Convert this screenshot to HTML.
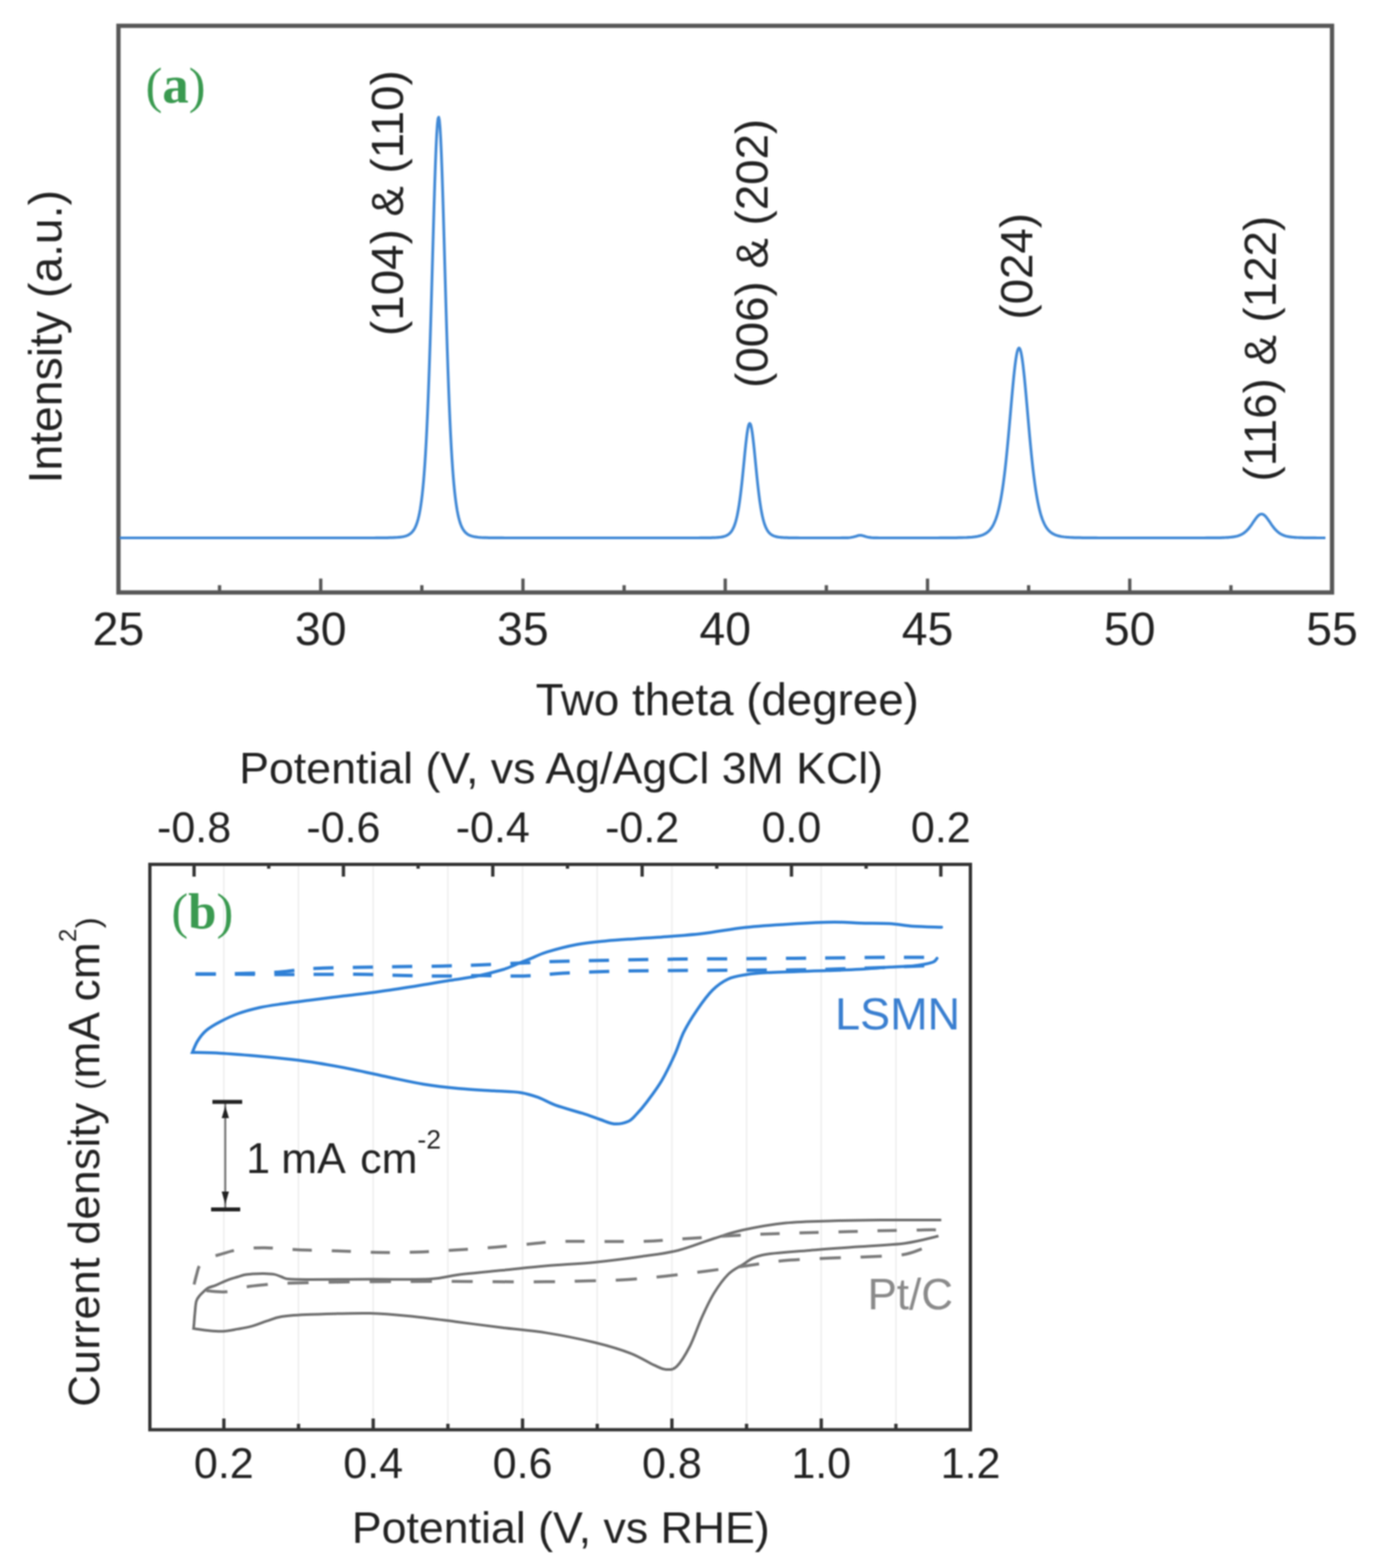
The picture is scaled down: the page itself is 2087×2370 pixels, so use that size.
<!DOCTYPE html><html><head><meta charset="utf-8"><style>html,body{margin:0;padding:0;background:#fff;overflow:hidden;}svg{display:block;filter:blur(1px);}</style></head><body>
<svg width="2087" height="2370" viewBox="0 0 2087 2370">
<rect width="100%" height="100%" fill="#fff"/>
<rect x="179.0" y="39.0" width="1834.0" height="856.5" fill="none" stroke="#575757" stroke-width="6.5"/>
<line x1="179.0" y1="895.5" x2="179.0" y2="874.5" stroke="#575757" stroke-width="5"/>
<line x1="484.7" y1="895.5" x2="484.7" y2="874.5" stroke="#575757" stroke-width="5"/>
<line x1="790.3" y1="895.5" x2="790.3" y2="874.5" stroke="#575757" stroke-width="5"/>
<line x1="1096.0" y1="895.5" x2="1096.0" y2="874.5" stroke="#575757" stroke-width="5"/>
<line x1="1401.7" y1="895.5" x2="1401.7" y2="874.5" stroke="#575757" stroke-width="5"/>
<line x1="1707.3" y1="895.5" x2="1707.3" y2="874.5" stroke="#575757" stroke-width="5"/>
<line x1="2013.0" y1="895.5" x2="2013.0" y2="874.5" stroke="#575757" stroke-width="5"/>
<line x1="331.8" y1="895.5" x2="331.8" y2="884.5" stroke="#575757" stroke-width="5"/>
<line x1="637.5" y1="895.5" x2="637.5" y2="884.5" stroke="#575757" stroke-width="5"/>
<line x1="943.2" y1="895.5" x2="943.2" y2="884.5" stroke="#575757" stroke-width="5"/>
<line x1="1248.8" y1="895.5" x2="1248.8" y2="884.5" stroke="#575757" stroke-width="5"/>
<line x1="1554.5" y1="895.5" x2="1554.5" y2="884.5" stroke="#575757" stroke-width="5"/>
<line x1="1860.2" y1="895.5" x2="1860.2" y2="884.5" stroke="#575757" stroke-width="5"/>
<text x="179.0" y="975" font-family="'Liberation Sans', Arial, sans-serif" font-size="70" fill="#222" text-anchor="middle">25</text>
<text x="484.7" y="975" font-family="'Liberation Sans', Arial, sans-serif" font-size="70" fill="#222" text-anchor="middle">30</text>
<text x="790.3" y="975" font-family="'Liberation Sans', Arial, sans-serif" font-size="70" fill="#222" text-anchor="middle">35</text>
<text x="1096.0" y="975" font-family="'Liberation Sans', Arial, sans-serif" font-size="70" fill="#222" text-anchor="middle">40</text>
<text x="1401.7" y="975" font-family="'Liberation Sans', Arial, sans-serif" font-size="70" fill="#222" text-anchor="middle">45</text>
<text x="1707.3" y="975" font-family="'Liberation Sans', Arial, sans-serif" font-size="70" fill="#222" text-anchor="middle">50</text>
<text x="2013.0" y="975" font-family="'Liberation Sans', Arial, sans-serif" font-size="70" fill="#222" text-anchor="middle">55</text>
<text x="1099" y="1081" font-family="'Liberation Sans', Arial, sans-serif" font-size="69" fill="#222" text-anchor="middle">Two theta (degree)</text>
<text transform="translate(92.8,509) rotate(-90)" font-family="'Liberation Sans', Arial, sans-serif" font-size="70" fill="#222" text-anchor="middle">Intensity (a.u.)</text>
<text x="220" y="154.5" font-family="'Liberation Serif', 'Times New Roman', serif" font-size="80" font-weight="bold" fill="#3a9a50"><tspan font-weight="normal" font-size="76">(</tspan>a<tspan font-weight="normal" font-size="76">)</tspan></text>
<text transform="translate(609.0,307.0) rotate(-90)" font-family="'Liberation Sans', Arial, sans-serif" font-size="69" fill="#222" text-anchor="middle">(104) &amp; (110)</text>
<text transform="translate(1160.0,383.0) rotate(-90)" font-family="'Liberation Sans', Arial, sans-serif" font-size="69" fill="#222" text-anchor="middle">(006) &amp; (202)</text>
<text transform="translate(1560.0,402.5) rotate(-90)" font-family="'Liberation Sans', Arial, sans-serif" font-size="69" fill="#222" text-anchor="middle">(024)</text>
<text transform="translate(1928.0,527.0) rotate(-90)" font-family="'Liberation Sans', Arial, sans-serif" font-size="69" fill="#222" text-anchor="middle">(116) &amp; (122)</text>
<path d="M181.0,813.0 L185.0,813.0 L189.0,813.0 L193.0,813.0 L197.0,813.0 L201.0,813.0 L205.0,813.0 L209.0,813.0 L213.0,813.0 L217.0,813.0 L221.0,813.0 L225.0,813.0 L229.0,813.0 L233.0,813.0 L237.0,813.0 L241.0,813.0 L245.0,813.0 L249.0,813.0 L253.0,813.0 L257.0,813.0 L261.0,813.0 L265.0,813.0 L269.0,813.0 L273.0,813.0 L277.0,813.0 L281.0,813.0 L285.0,813.0 L289.0,813.0 L293.0,813.0 L297.0,813.0 L301.0,813.0 L305.0,813.0 L309.0,813.0 L313.0,813.0 L317.0,813.0 L321.0,813.0 L325.0,813.0 L329.0,813.0 L333.0,813.0 L337.0,813.0 L341.0,813.0 L345.0,813.0 L349.0,813.0 L353.0,813.0 L357.0,813.0 L361.0,813.0 L365.0,813.0 L369.0,813.0 L373.0,813.0 L377.0,813.0 L381.0,813.0 L385.0,813.0 L389.0,813.0 L393.0,813.0 L397.0,813.0 L401.0,813.0 L405.0,813.0 L409.0,813.0 L413.0,813.0 L417.0,813.0 L421.0,813.0 L425.0,813.0 L429.0,813.0 L433.0,813.0 L437.0,813.0 L441.0,813.0 L445.0,813.0 L449.0,813.0 L453.0,813.0 L457.0,813.0 L461.0,813.0 L465.0,813.0 L469.0,813.0 L473.0,813.0 L477.0,813.0 L481.0,813.0 L485.0,813.0 L489.0,813.0 L493.0,813.0 L497.0,813.0 L501.0,813.0 L505.0,813.0 L509.0,813.0 L513.0,813.0 L517.0,813.0 L521.0,813.0 L525.0,813.0 L529.0,813.0 L533.0,813.0 L537.0,813.0 L541.0,813.0 L545.0,813.0 L549.0,813.0 L553.0,813.0 L557.0,813.0 L561.0,813.0 L565.0,813.0 L569.0,812.9 L573.0,812.9 L577.0,812.9 L581.0,812.9 L585.0,812.8 L589.0,812.7 L593.0,812.6 L597.0,812.4 L601.0,812.2 L605.0,811.8 L606.0,811.7 L607.0,811.5 L608.0,811.4 L609.0,811.2 L610.0,811.0 L611.0,810.7 L612.0,810.5 L613.0,810.2 L614.0,809.9 L615.0,809.5 L616.0,809.1 L617.0,808.6 L618.0,808.0 L619.0,807.4 L620.0,806.7 L621.0,805.9 L622.0,805.0 L623.0,803.9 L624.0,802.7 L625.0,801.4 L626.0,799.8 L627.0,798.0 L628.0,795.9 L629.0,793.6 L630.0,790.8 L631.0,787.7 L632.0,784.1 L633.0,780.0 L634.0,775.2 L635.0,769.8 L636.0,763.5 L637.0,756.4 L638.0,748.2 L639.0,738.8 L640.0,728.1 L641.0,715.9 L642.0,702.1 L643.0,686.5 L644.0,669.0 L645.0,649.4 L646.0,627.6 L647.0,603.5 L648.0,577.1 L649.0,548.5 L650.0,517.7 L651.0,485.0 L652.0,450.8 L653.0,415.4 L654.0,379.6 L655.0,344.1 L656.0,309.7 L657.0,277.4 L658.0,248.1 L659.0,222.8 L660.0,202.4 L661.0,187.7 L662.0,179.1 L663.0,177.1 L664.0,181.8 L665.0,192.9 L666.0,210.0 L667.0,232.4 L668.0,259.4 L669.0,290.0 L670.0,323.3 L671.0,358.2 L672.0,394.0 L673.0,429.7 L674.0,464.6 L675.0,498.3 L676.0,530.3 L677.0,560.2 L678.0,588.0 L679.0,613.4 L680.0,636.6 L681.0,657.5 L682.0,676.3 L683.0,693.0 L684.0,707.8 L685.0,721.0 L686.0,732.5 L687.0,742.7 L688.0,751.6 L689.0,759.3 L690.0,766.1 L691.0,772.1 L692.0,777.2 L693.0,781.7 L694.0,785.6 L695.0,789.0 L696.0,792.0 L697.0,794.6 L698.0,796.8 L699.0,798.8 L700.0,800.5 L701.0,801.9 L702.0,803.2 L703.0,804.4 L704.0,805.4 L705.0,806.2 L706.0,807.0 L707.0,807.7 L708.0,808.3 L709.0,808.8 L710.0,809.2 L711.0,809.6 L712.0,810.0 L713.0,810.3 L714.0,810.6 L715.0,810.8 L716.0,811.1 L717.0,811.3 L718.0,811.4 L719.0,811.6 L720.0,811.7 L721.0,811.8 L722.0,812.0 L723.0,812.1 L727.0,812.4 L731.0,812.6 L735.0,812.7 L739.0,812.8 L743.0,812.8 L747.0,812.9 L751.0,812.9 L755.0,812.9 L759.0,812.9 L763.0,813.0 L767.0,813.0 L771.0,813.0 L775.0,813.0 L779.0,813.0 L783.0,813.0 L787.0,813.0 L791.0,813.0 L795.0,813.0 L799.0,813.0 L803.0,813.0 L807.0,813.0 L811.0,813.0 L815.0,813.0 L819.0,813.0 L823.0,813.0 L827.0,813.0 L831.0,813.0 L835.0,813.0 L839.0,813.0 L843.0,813.0 L847.0,813.0 L851.0,813.0 L855.0,813.0 L859.0,813.0 L863.0,813.0 L867.0,813.0 L871.0,813.0 L875.0,813.0 L879.0,813.0 L883.0,813.0 L887.0,813.0 L891.0,813.0 L895.0,813.0 L899.0,813.0 L903.0,813.0 L907.0,813.0 L911.0,813.0 L915.0,813.0 L919.0,813.0 L923.0,813.0 L927.0,813.0 L931.0,813.0 L935.0,813.0 L939.0,813.0 L943.0,813.0 L947.0,813.0 L951.0,813.0 L955.0,813.0 L959.0,813.0 L963.0,813.0 L967.0,813.0 L971.0,813.0 L975.0,813.0 L979.0,813.0 L983.0,813.0 L987.0,813.0 L991.0,813.0 L995.0,813.0 L999.0,813.0 L1003.0,813.0 L1007.0,813.0 L1011.0,813.0 L1015.0,813.0 L1019.0,813.0 L1023.0,813.0 L1027.0,813.0 L1031.0,813.0 L1035.0,813.0 L1039.0,813.0 L1043.0,813.0 L1047.0,813.0 L1051.0,813.0 L1055.0,813.0 L1059.0,812.9 L1063.0,812.9 L1067.0,812.9 L1071.0,812.8 L1075.0,812.8 L1076.0,812.7 L1077.0,812.7 L1078.0,812.7 L1079.0,812.6 L1080.0,812.6 L1081.0,812.6 L1082.0,812.5 L1083.0,812.4 L1084.0,812.4 L1085.0,812.3 L1086.0,812.2 L1087.0,812.1 L1088.0,812.0 L1089.0,811.9 L1090.0,811.7 L1091.0,811.6 L1092.0,811.4 L1093.0,811.1 L1094.0,810.9 L1095.0,810.6 L1096.0,810.3 L1097.0,809.9 L1098.0,809.4 L1099.0,808.9 L1100.0,808.3 L1101.0,807.6 L1102.0,806.8 L1103.0,805.9 L1104.0,804.8 L1105.0,803.6 L1106.0,802.2 L1107.0,800.5 L1108.0,798.6 L1109.0,796.4 L1110.0,793.9 L1111.0,791.0 L1112.0,787.6 L1113.0,783.8 L1114.0,779.5 L1115.0,774.5 L1116.0,769.0 L1117.0,762.8 L1118.0,755.9 L1119.0,748.3 L1120.0,740.1 L1121.0,731.2 L1122.0,721.7 L1123.0,711.8 L1124.0,701.6 L1125.0,691.4 L1126.0,681.3 L1127.0,671.7 L1128.0,662.9 L1129.0,655.1 L1130.0,648.7 L1131.0,644.0 L1132.0,641.0 L1133.0,640.0 L1134.0,641.0 L1135.0,644.0 L1136.0,648.7 L1137.0,655.1 L1138.0,662.9 L1139.0,671.7 L1140.0,681.3 L1141.0,691.4 L1142.0,701.6 L1143.0,711.8 L1144.0,721.7 L1145.0,731.2 L1146.0,740.1 L1147.0,748.3 L1148.0,755.9 L1149.0,762.8 L1150.0,769.0 L1151.0,774.5 L1152.0,779.5 L1153.0,783.8 L1154.0,787.6 L1155.0,791.0 L1156.0,793.9 L1157.0,796.4 L1158.0,798.6 L1159.0,800.5 L1160.0,802.2 L1161.0,803.6 L1162.0,804.8 L1163.0,805.9 L1164.0,806.8 L1165.0,807.6 L1166.0,808.3 L1167.0,808.9 L1168.0,809.4 L1169.0,809.9 L1170.0,810.3 L1171.0,810.6 L1172.0,810.9 L1173.0,811.1 L1174.0,811.4 L1175.0,811.6 L1176.0,811.7 L1177.0,811.9 L1178.0,812.0 L1179.0,812.1 L1180.0,812.2 L1181.0,812.3 L1182.0,812.4 L1183.0,812.4 L1184.0,812.5 L1185.0,812.6 L1186.0,812.6 L1187.0,812.6 L1188.0,812.7 L1189.0,812.7 L1190.0,812.7 L1191.0,812.8 L1192.0,812.8 L1193.0,812.8 L1197.0,812.9 L1201.0,812.9 L1205.0,812.9 L1209.0,813.0 L1213.0,813.0 L1217.0,813.0 L1221.0,813.0 L1225.0,813.0 L1229.0,813.0 L1233.0,813.0 L1237.0,813.0 L1241.0,813.0 L1245.0,813.0 L1249.0,813.0 L1253.0,813.0 L1257.0,813.0 L1261.0,813.0 L1265.0,813.0 L1269.0,813.0 L1273.0,812.9 L1277.0,812.9 L1281.0,812.8 L1285.0,812.5 L1289.0,811.8 L1293.0,810.7 L1297.0,809.4 L1301.0,809.0 L1305.0,810.0 L1309.0,811.3 L1313.0,812.2 L1317.0,812.6 L1321.0,812.8 L1325.0,812.9 L1329.0,813.0 L1333.0,813.0 L1337.0,813.0 L1341.0,813.0 L1345.0,813.0 L1349.0,813.0 L1353.0,813.0 L1357.0,813.0 L1361.0,813.0 L1365.0,813.0 L1369.0,813.0 L1373.0,813.0 L1377.0,813.0 L1381.0,813.0 L1385.0,813.0 L1389.0,813.0 L1393.0,813.0 L1397.0,813.0 L1401.0,813.0 L1405.0,813.0 L1409.0,813.0 L1413.0,813.0 L1417.0,813.0 L1421.0,812.9 L1425.0,812.9 L1429.0,812.9 L1433.0,812.9 L1437.0,812.9 L1441.0,812.8 L1445.0,812.8 L1449.0,812.7 L1453.0,812.6 L1457.0,812.5 L1461.0,812.4 L1465.0,812.1 L1469.0,811.8 L1473.0,811.4 L1477.0,810.8 L1481.0,809.9 L1482.0,809.6 L1483.0,809.3 L1484.0,808.9 L1485.0,808.6 L1486.0,808.2 L1487.0,807.7 L1488.0,807.2 L1489.0,806.7 L1490.0,806.0 L1491.0,805.4 L1492.0,804.6 L1493.0,803.8 L1494.0,802.9 L1495.0,801.9 L1496.0,800.8 L1497.0,799.6 L1498.0,798.3 L1499.0,796.8 L1500.0,795.2 L1501.0,793.4 L1502.0,791.4 L1503.0,789.2 L1504.0,786.8 L1505.0,784.2 L1506.0,781.3 L1507.0,778.1 L1508.0,774.6 L1509.0,770.7 L1510.0,766.5 L1511.0,761.9 L1512.0,756.9 L1513.0,751.4 L1514.0,745.5 L1515.0,739.1 L1516.0,732.2 L1517.0,724.8 L1518.0,716.9 L1519.0,708.4 L1520.0,699.4 L1521.0,689.9 L1522.0,679.9 L1523.0,669.5 L1524.0,658.7 L1525.0,647.6 L1526.0,636.2 L1527.0,624.8 L1528.0,613.3 L1529.0,601.9 L1530.0,590.7 L1531.0,580.0 L1532.0,569.8 L1533.0,560.4 L1534.0,551.8 L1535.0,544.2 L1536.0,537.9 L1537.0,532.7 L1538.0,529.0 L1539.0,526.8 L1540.0,526.0 L1541.0,526.8 L1542.0,529.0 L1543.0,532.7 L1544.0,537.9 L1545.0,544.2 L1546.0,551.8 L1547.0,560.4 L1548.0,569.8 L1549.0,580.0 L1550.0,590.7 L1551.0,601.9 L1552.0,613.3 L1553.0,624.8 L1554.0,636.2 L1555.0,647.6 L1556.0,658.7 L1557.0,669.5 L1558.0,679.9 L1559.0,689.9 L1560.0,699.4 L1561.0,708.4 L1562.0,716.9 L1563.0,724.8 L1564.0,732.2 L1565.0,739.1 L1566.0,745.5 L1567.0,751.4 L1568.0,756.9 L1569.0,761.9 L1570.0,766.5 L1571.0,770.7 L1572.0,774.6 L1573.0,778.1 L1574.0,781.3 L1575.0,784.2 L1576.0,786.8 L1577.0,789.2 L1578.0,791.4 L1579.0,793.4 L1580.0,795.2 L1581.0,796.8 L1582.0,798.3 L1583.0,799.6 L1584.0,800.8 L1585.0,801.9 L1586.0,802.9 L1587.0,803.8 L1588.0,804.6 L1589.0,805.4 L1590.0,806.0 L1591.0,806.7 L1592.0,807.2 L1593.0,807.7 L1594.0,808.2 L1595.0,808.6 L1596.0,808.9 L1597.0,809.3 L1598.0,809.6 L1599.0,809.9 L1600.0,810.1 L1604.0,811.0 L1608.0,811.5 L1612.0,811.9 L1616.0,812.2 L1620.0,812.4 L1624.0,812.6 L1628.0,812.7 L1632.0,812.7 L1636.0,812.8 L1640.0,812.8 L1644.0,812.9 L1648.0,812.9 L1652.0,812.9 L1656.0,812.9 L1660.0,813.0 L1664.0,813.0 L1668.0,813.0 L1672.0,813.0 L1676.0,813.0 L1680.0,813.0 L1684.0,813.0 L1688.0,813.0 L1692.0,813.0 L1696.0,813.0 L1700.0,813.0 L1704.0,813.0 L1708.0,813.0 L1712.0,813.0 L1716.0,813.0 L1720.0,813.0 L1724.0,813.0 L1728.0,813.0 L1732.0,813.0 L1736.0,813.0 L1740.0,813.0 L1744.0,813.0 L1748.0,813.0 L1752.0,813.0 L1756.0,813.0 L1760.0,813.0 L1764.0,813.0 L1768.0,813.0 L1772.0,813.0 L1776.0,813.0 L1780.0,813.0 L1784.0,813.0 L1788.0,813.0 L1792.0,813.0 L1796.0,813.0 L1800.0,813.0 L1804.0,813.0 L1808.0,813.0 L1812.0,813.0 L1816.0,813.0 L1820.0,813.0 L1824.0,812.9 L1828.0,812.9 L1832.0,812.9 L1836.0,812.9 L1840.0,812.8 L1844.0,812.8 L1848.0,812.6 L1849.0,812.6 L1850.0,812.6 L1851.0,812.5 L1852.0,812.5 L1853.0,812.4 L1854.0,812.4 L1855.0,812.3 L1856.0,812.3 L1857.0,812.2 L1858.0,812.1 L1859.0,812.0 L1860.0,811.9 L1861.0,811.8 L1862.0,811.7 L1863.0,811.6 L1864.0,811.4 L1865.0,811.3 L1866.0,811.1 L1867.0,810.9 L1868.0,810.7 L1869.0,810.5 L1870.0,810.2 L1871.0,809.9 L1872.0,809.6 L1873.0,809.2 L1874.0,808.8 L1875.0,808.4 L1876.0,807.9 L1877.0,807.4 L1878.0,806.8 L1879.0,806.2 L1880.0,805.5 L1881.0,804.7 L1882.0,803.9 L1883.0,803.1 L1884.0,802.1 L1885.0,801.1 L1886.0,800.0 L1887.0,798.9 L1888.0,797.6 L1889.0,796.3 L1890.0,795.0 L1891.0,793.6 L1892.0,792.2 L1893.0,790.7 L1894.0,789.2 L1895.0,787.7 L1896.0,786.3 L1897.0,784.8 L1898.0,783.5 L1899.0,782.2 L1900.0,781.0 L1901.0,779.9 L1902.0,779.0 L1903.0,778.2 L1904.0,777.6 L1905.0,777.2 L1906.0,777.0 L1907.0,777.0 L1908.0,777.2 L1909.0,777.6 L1910.0,778.2 L1911.0,779.0 L1912.0,779.9 L1913.0,781.0 L1914.0,782.2 L1915.0,783.5 L1916.0,784.8 L1917.0,786.3 L1918.0,787.7 L1919.0,789.2 L1920.0,790.7 L1921.0,792.2 L1922.0,793.6 L1923.0,795.0 L1924.0,796.3 L1925.0,797.6 L1926.0,798.9 L1927.0,800.0 L1928.0,801.1 L1929.0,802.1 L1930.0,803.1 L1931.0,803.9 L1932.0,804.7 L1933.0,805.5 L1934.0,806.2 L1935.0,806.8 L1936.0,807.4 L1937.0,807.9 L1938.0,808.4 L1939.0,808.8 L1940.0,809.2 L1941.0,809.6 L1942.0,809.9 L1943.0,810.2 L1944.0,810.5 L1945.0,810.7 L1946.0,810.9 L1947.0,811.1 L1948.0,811.3 L1949.0,811.4 L1950.0,811.6 L1951.0,811.7 L1952.0,811.8 L1953.0,811.9 L1954.0,812.0 L1955.0,812.1 L1956.0,812.2 L1957.0,812.3 L1958.0,812.3 L1959.0,812.4 L1960.0,812.5 L1961.0,812.5 L1962.0,812.5 L1963.0,812.6 L1964.0,812.6 L1965.0,812.6 L1966.0,812.7 L1967.0,812.7 L1971.0,812.8 L1975.0,812.8 L1979.0,812.9 L1983.0,812.9 L1987.0,812.9 L1991.0,813.0 L1995.0,813.0 L1999.0,813.0 L2003.0,813.0" fill="none" stroke="#4189d6" stroke-width="4.2" stroke-linejoin="round"/>
<line x1="338.3" y1="1306.5" x2="338.3" y2="2161.0" stroke="#ececec" stroke-width="2"/>
<line x1="451.1" y1="1306.5" x2="451.1" y2="2161.0" stroke="#ececec" stroke-width="2"/>
<line x1="564.0" y1="1306.5" x2="564.0" y2="2161.0" stroke="#ececec" stroke-width="2"/>
<line x1="676.8" y1="1306.5" x2="676.8" y2="2161.0" stroke="#ececec" stroke-width="2"/>
<line x1="789.7" y1="1306.5" x2="789.7" y2="2161.0" stroke="#ececec" stroke-width="2"/>
<line x1="902.5" y1="1306.5" x2="902.5" y2="2161.0" stroke="#ececec" stroke-width="2"/>
<line x1="1015.4" y1="1306.5" x2="1015.4" y2="2161.0" stroke="#ececec" stroke-width="2"/>
<line x1="1128.2" y1="1306.5" x2="1128.2" y2="2161.0" stroke="#ececec" stroke-width="2"/>
<line x1="1241.1" y1="1306.5" x2="1241.1" y2="2161.0" stroke="#ececec" stroke-width="2"/>
<line x1="1354.0" y1="1306.5" x2="1354.0" y2="2161.0" stroke="#ececec" stroke-width="2"/>
<rect x="226.5" y="1306.5" width="1240.0" height="854.5" fill="none" stroke="#333" stroke-width="5"/>
<line x1="338.3" y1="2161.0" x2="338.3" y2="2144.0" stroke="#333" stroke-width="5"/>
<text x="338.3" y="2234" font-family="'Liberation Sans', Arial, sans-serif" font-size="65" fill="#222" text-anchor="middle">0.2</text>
<line x1="564.0" y1="2161.0" x2="564.0" y2="2144.0" stroke="#333" stroke-width="5"/>
<text x="564.0" y="2234" font-family="'Liberation Sans', Arial, sans-serif" font-size="65" fill="#222" text-anchor="middle">0.4</text>
<line x1="789.7" y1="2161.0" x2="789.7" y2="2144.0" stroke="#333" stroke-width="5"/>
<text x="789.7" y="2234" font-family="'Liberation Sans', Arial, sans-serif" font-size="65" fill="#222" text-anchor="middle">0.6</text>
<line x1="1015.4" y1="2161.0" x2="1015.4" y2="2144.0" stroke="#333" stroke-width="5"/>
<text x="1015.4" y="2234" font-family="'Liberation Sans', Arial, sans-serif" font-size="65" fill="#222" text-anchor="middle">0.8</text>
<line x1="1241.1" y1="2161.0" x2="1241.1" y2="2144.0" stroke="#333" stroke-width="5"/>
<text x="1241.1" y="2234" font-family="'Liberation Sans', Arial, sans-serif" font-size="65" fill="#222" text-anchor="middle">1.0</text>
<text x="1466.8" y="2234" font-family="'Liberation Sans', Arial, sans-serif" font-size="65" fill="#222" text-anchor="middle">1.2</text>
<line x1="451.1" y1="2161.0" x2="451.1" y2="2152.0" stroke="#333" stroke-width="5"/>
<line x1="676.9" y1="2161.0" x2="676.9" y2="2152.0" stroke="#333" stroke-width="5"/>
<line x1="902.6" y1="2161.0" x2="902.6" y2="2152.0" stroke="#333" stroke-width="5"/>
<line x1="1128.2" y1="2161.0" x2="1128.2" y2="2152.0" stroke="#333" stroke-width="5"/>
<line x1="1353.9" y1="2161.0" x2="1353.9" y2="2152.0" stroke="#333" stroke-width="5"/>
<line x1="293.3" y1="1306.5" x2="293.3" y2="1325.0" stroke="#333" stroke-width="5"/>
<text x="293.3" y="1273" font-family="'Liberation Sans', Arial, sans-serif" font-size="65" fill="#222" text-anchor="middle">-0.8</text>
<line x1="519.0" y1="1306.5" x2="519.0" y2="1325.0" stroke="#333" stroke-width="5"/>
<text x="519.0" y="1273" font-family="'Liberation Sans', Arial, sans-serif" font-size="65" fill="#222" text-anchor="middle">-0.6</text>
<line x1="744.7" y1="1306.5" x2="744.7" y2="1325.0" stroke="#333" stroke-width="5"/>
<text x="744.7" y="1273" font-family="'Liberation Sans', Arial, sans-serif" font-size="65" fill="#222" text-anchor="middle">-0.4</text>
<line x1="970.4" y1="1306.5" x2="970.4" y2="1325.0" stroke="#333" stroke-width="5"/>
<text x="970.4" y="1273" font-family="'Liberation Sans', Arial, sans-serif" font-size="65" fill="#222" text-anchor="middle">-0.2</text>
<line x1="1196.1" y1="1306.5" x2="1196.1" y2="1325.0" stroke="#333" stroke-width="5"/>
<text x="1196.1" y="1273" font-family="'Liberation Sans', Arial, sans-serif" font-size="65" fill="#222" text-anchor="middle">0.0</text>
<line x1="1421.8" y1="1306.5" x2="1421.8" y2="1325.0" stroke="#333" stroke-width="5"/>
<text x="1421.8" y="1273" font-family="'Liberation Sans', Arial, sans-serif" font-size="65" fill="#222" text-anchor="middle">0.2</text>
<line x1="406.1" y1="1306.5" x2="406.1" y2="1313.0" stroke="#333" stroke-width="5"/>
<line x1="631.9" y1="1306.5" x2="631.9" y2="1313.0" stroke="#333" stroke-width="5"/>
<line x1="857.6" y1="1306.5" x2="857.6" y2="1313.0" stroke="#333" stroke-width="5"/>
<line x1="1083.2" y1="1306.5" x2="1083.2" y2="1313.0" stroke="#333" stroke-width="5"/>
<line x1="1308.9" y1="1306.5" x2="1308.9" y2="1313.0" stroke="#333" stroke-width="5"/>
<text x="848" y="1184" font-family="'Liberation Sans', Arial, sans-serif" font-size="67.5" fill="#222" text-anchor="middle">Potential (V, vs Ag/AgCl 3M KCl)</text>
<text x="847.5" y="2332" font-family="'Liberation Sans', Arial, sans-serif" font-size="67.5" fill="#222" text-anchor="middle">Potential (V, vs RHE)</text>
<text transform="translate(150,1756) rotate(-90)" font-family="'Liberation Sans', Arial, sans-serif" font-size="66.5" letter-spacing="0.6" fill="#222" text-anchor="middle">Current density <tspan font-size="50">(</tspan>mA cm<tspan font-size="36" dy="-35.5">2</tspan><tspan font-size="50" dy="35.5">)</tspan></text>
<text x="259" y="1403" font-family="'Liberation Serif', 'Times New Roman', serif" font-size="77" font-weight="bold" fill="#3a9a50"><tspan font-weight="normal" font-size="76">(</tspan>b<tspan font-weight="normal" font-size="76">)</tspan></text>
<text x="1262" y="1555.5" font-family="'Liberation Sans', Arial, sans-serif" font-size="68" fill="#3a7fd0">LSMN</text>
<text x="1311" y="1978.5" font-family="'Liberation Sans', Arial, sans-serif" font-size="66.5" fill="#8a8a8a">Pt/C</text>
<line x1="340.5" y1="1668" x2="340.5" y2="1826" stroke="#777" stroke-width="3"/>
<line x1="321" y1="1665.5" x2="366" y2="1665.5" stroke="#222" stroke-width="6"/>
<line x1="319" y1="1828" x2="363" y2="1828" stroke="#222" stroke-width="6"/>
<path d="M335,1690 L340.5,1672 L346,1690 Z" fill="#222"/>
<path d="M335,1801 L340.5,1820 L346,1801 Z" fill="#222"/>
<text x="372" y="1773" font-family="'Liberation Sans', Arial, sans-serif" font-size="65" fill="#222">1 <tspan x="425">mA </tspan><tspan x="544.2">cm</tspan><tspan font-size="40" dy="-37">-2</tspan></text>
<path d="M1423.0,1401.5 C1415.8,1401.2 1393.2,1400.9 1380.0,1400.0 C1366.8,1399.1 1357.3,1396.8 1344.0,1396.0 C1330.7,1395.2 1314.0,1395.7 1300.0,1395.3 C1286.0,1394.9 1277.8,1393.6 1260.0,1393.8 C1242.2,1394.0 1215.5,1395.4 1193.3,1396.7 C1171.1,1398.0 1148.9,1399.3 1126.7,1401.7 C1104.5,1404.1 1082.2,1408.7 1060.0,1411.2 C1037.8,1413.7 1010.0,1415.4 993.3,1416.7 C976.6,1418.0 973.0,1418.0 960.0,1418.9 C947.0,1419.8 930.4,1420.7 915.6,1422.2 C900.8,1423.7 885.9,1425.0 871.1,1427.8 C856.3,1430.6 837.8,1435.6 826.7,1438.9 C815.6,1442.2 811.8,1444.8 804.4,1447.8 C797.0,1450.8 789.6,1453.8 782.2,1456.7 C774.8,1459.7 770.4,1462.4 760.0,1465.5 C749.6,1468.6 733.3,1472.8 720.0,1475.5 C706.7,1478.2 695.5,1479.3 680.0,1481.8 C664.5,1484.3 644.5,1487.9 626.7,1490.7 C608.9,1493.5 591.1,1496.3 573.3,1498.7 C555.5,1501.1 537.8,1503.1 520.0,1505.3 C502.2,1507.5 482.2,1510.0 466.7,1512.0 C451.1,1514.0 439.1,1515.5 426.7,1517.3 C414.2,1519.1 403.1,1520.5 392.0,1523.0 C380.9,1525.5 369.8,1528.5 360.0,1532.0 C350.2,1535.5 341.3,1539.8 333.3,1544.0 C325.3,1548.2 317.8,1552.4 312.0,1557.3 C306.2,1562.2 302.2,1567.7 298.7,1573.3 C295.1,1578.9 292.0,1587.8 290.7,1590.7 C297.8,1590.9 317.3,1591.1 333.3,1592.0 C349.3,1592.9 368.9,1594.5 386.7,1596.0 C404.5,1597.5 424.4,1599.5 440.0,1601.3 C455.6,1603.1 464.4,1604.2 480.0,1606.7 C495.6,1609.2 515.5,1613.0 533.3,1616.5 C551.1,1620.0 568.9,1624.3 586.7,1628.0 C604.5,1631.7 622.2,1635.8 640.0,1638.7 C657.8,1641.6 675.5,1643.6 693.3,1645.3 C711.1,1647.0 731.1,1647.8 746.7,1648.8 C762.3,1649.8 775.6,1649.8 786.7,1651.5 C797.8,1653.2 804.4,1655.5 813.3,1658.7 C822.2,1661.9 828.9,1666.7 840.0,1670.7 C851.1,1674.7 868.9,1679.2 880.0,1682.7 C891.1,1686.2 898.7,1689.3 906.7,1692.0 C914.7,1694.7 920.9,1698.2 928.0,1698.7 C935.1,1699.2 943.6,1697.5 949.3,1695.0 C955.0,1692.5 957.4,1688.7 962.0,1684.0 C966.6,1679.3 970.4,1675.2 976.7,1666.7 C983.0,1658.2 992.8,1645.5 1000.0,1633.3 C1007.2,1621.1 1014.5,1605.5 1020.0,1593.3 C1025.5,1581.1 1027.8,1571.1 1033.3,1560.0 C1038.8,1548.9 1046.1,1537.2 1053.3,1526.7 C1060.5,1516.2 1068.9,1504.5 1076.7,1496.7 C1084.5,1488.9 1091.7,1483.9 1100.0,1480.0 C1108.3,1476.1 1116.7,1475.0 1126.7,1473.3 C1136.7,1471.6 1139.5,1471.0 1160.0,1470.0 C1180.5,1469.0 1226.7,1467.8 1250.0,1467.0 C1273.3,1466.2 1284.3,1465.9 1300.0,1465.0 C1315.7,1464.1 1330.7,1462.6 1344.0,1461.8 C1357.3,1461.0 1371.0,1460.8 1380.0,1460.0 C1389.0,1459.2 1392.6,1458.3 1397.8,1457.3 C1403.0,1456.3 1408.0,1455.3 1411.0,1453.8 C1414.0,1452.3 1415.2,1449.4 1416.0,1448.5" fill="none" stroke="#2f80d6" stroke-width="4.5" stroke-linejoin="miter" stroke-linecap="round"/>
<path d="M295.5,1472.0 C301.2,1472.0 319.2,1472.1 330.0,1472.0 C340.8,1471.9 348.3,1471.8 360.0,1471.5 C371.7,1471.2 388.3,1471.0 400.0,1470.5 C411.7,1470.0 420.0,1469.4 430.0,1468.5 C440.0,1467.6 450.3,1465.9 460.0,1465.0 C469.7,1464.1 473.3,1463.8 488.0,1463.3 C502.7,1462.8 528.2,1462.4 548.0,1462.0 C567.8,1461.6 587.0,1461.3 607.0,1461.0 C627.0,1460.7 648.3,1460.6 668.0,1460.2 C687.7,1459.8 704.7,1459.2 725.0,1458.4 C745.3,1457.6 769.2,1456.4 790.0,1455.5 C810.8,1454.6 815.0,1453.9 850.0,1453.0 C885.0,1452.1 941.7,1450.8 1000.0,1450.0 C1058.3,1449.2 1142.8,1449.0 1200.0,1448.5 C1257.2,1448.0 1309.7,1447.2 1343.0,1447.0 C1376.3,1446.8 1387.8,1446.8 1400.0,1447.0 C1412.2,1447.2 1413.0,1447.3 1416.0,1448.0 C1419.0,1448.7 1417.7,1450.5 1418.0,1451.0" fill="none" stroke="#2f80d6" stroke-width="5" stroke-dasharray="30.5 29"/>
<path d="M295.5,1472.5 C301.2,1472.5 319.2,1472.5 330.0,1472.5 C340.8,1472.5 343.3,1472.4 360.0,1472.5 C376.7,1472.6 408.3,1473.0 430.0,1473.0 C451.7,1473.0 469.7,1472.8 490.0,1472.7 C510.3,1472.7 531.7,1472.4 552.0,1472.7 C572.3,1473.0 592.2,1474.0 612.0,1474.4 C631.8,1474.8 651.3,1475.3 671.0,1475.3 C690.7,1475.3 711.8,1474.6 730.0,1474.6 C748.2,1474.6 765.8,1475.4 780.0,1475.3 C794.2,1475.2 803.3,1474.7 815.0,1474.0 C826.7,1473.3 830.8,1472.0 850.0,1471.0 C869.2,1470.0 905.0,1468.7 930.0,1468.0 C955.0,1467.3 955.0,1467.3 1000.0,1467.0 C1045.0,1466.7 1150.0,1466.6 1200.0,1466.0 C1250.0,1465.4 1270.0,1464.4 1300.0,1463.5 C1330.0,1462.6 1361.7,1461.4 1380.0,1460.5 C1398.3,1459.6 1403.7,1459.6 1410.0,1458.0 C1416.3,1456.4 1416.7,1452.2 1418.0,1451.0" fill="none" stroke="#2f80d6" stroke-width="5" stroke-dasharray="30.5 29"/>
<path d="M1422.5,1844.0 C1407.3,1844.0 1358.8,1843.8 1331.6,1844.0 C1304.4,1844.2 1283.5,1844.5 1259.4,1845.3 C1235.3,1846.0 1210.0,1846.2 1187.1,1848.5 C1164.2,1850.8 1140.1,1855.4 1122.1,1859.3 C1104.0,1863.2 1095.0,1866.9 1078.8,1872.0 C1062.5,1877.1 1042.6,1885.5 1024.6,1890.0 C1006.5,1894.5 991.6,1896.0 970.5,1899.0 C949.4,1902.0 922.3,1905.6 898.2,1908.0 C874.1,1910.4 849.1,1911.3 826.0,1913.3 C802.9,1915.3 781.5,1917.8 759.3,1920.0 C737.1,1922.2 711.0,1924.5 692.7,1926.7 C674.4,1928.9 671.5,1932.2 649.3,1933.3 C627.1,1934.4 589.2,1933.4 559.3,1933.5 C529.4,1933.6 490.4,1933.9 470.0,1933.9 C449.6,1933.9 444.1,1934.0 436.7,1933.3 C429.3,1932.6 429.3,1931.2 425.6,1930.0 C421.9,1928.8 419.0,1926.9 414.4,1926.1 C409.8,1925.3 403.6,1925.1 398.0,1925.0 C392.4,1924.9 385.8,1925.3 381.1,1925.6 C376.4,1925.9 373.7,1926.0 370.0,1926.7 C366.3,1927.4 362.6,1928.9 358.9,1930.0 C355.2,1931.1 351.5,1932.0 347.8,1933.3 C344.1,1934.6 340.4,1936.2 336.7,1937.8 C333.0,1939.4 329.3,1941.3 325.6,1942.8 C321.9,1944.3 317.4,1945.1 314.4,1946.7 C311.4,1948.3 309.8,1950.4 307.8,1952.2 C305.8,1954.0 304.1,1955.4 302.2,1957.8 C300.3,1960.2 298.0,1962.2 296.7,1966.7 C295.4,1971.2 295.1,1979.5 294.5,1985.0 C293.9,1990.5 293.6,1996.2 293.3,2000.0 C293.0,2003.8 292.6,2006.7 292.5,2008.0 C296.1,2008.5 307.0,2010.4 314.4,2011.1 C321.8,2011.8 329.3,2012.6 336.7,2012.2 C344.1,2011.8 351.5,2010.2 358.9,2008.9 C366.3,2007.6 373.7,2006.4 381.1,2004.4 C388.5,2002.4 395.9,1999.1 403.3,1996.7 C410.7,1994.3 414.5,1991.7 425.6,1990.0 C436.7,1988.3 447.7,1987.5 470.0,1986.7 C492.3,1985.9 533.3,1984.5 559.3,1985.0 C585.3,1985.5 603.8,1987.8 626.0,1990.0 C648.2,1992.2 670.5,1995.5 692.7,1998.3 C714.9,2001.1 737.1,2004.0 759.3,2006.7 C781.5,2009.4 802.9,2010.9 826.0,2014.6 C849.1,2018.3 877.1,2023.9 898.2,2029.0 C919.3,2034.1 937.4,2039.6 952.4,2045.3 C967.4,2051.0 979.5,2059.3 988.5,2063.4 C997.5,2067.5 1000.9,2069.6 1006.6,2069.9 C1012.3,2070.2 1016.8,2071.1 1022.8,2065.2 C1028.8,2059.3 1036.4,2046.8 1042.7,2034.5 C1049.0,2022.2 1054.7,2004.3 1060.7,1991.1 C1066.7,1977.8 1072.2,1965.8 1078.8,1955.0 C1085.4,1944.2 1093.3,1933.3 1100.5,1926.1 C1107.7,1918.9 1113.7,1916.5 1122.1,1911.7 C1130.5,1906.9 1134.1,1900.8 1151.0,1897.2 C1167.9,1893.6 1199.2,1892.1 1223.3,1890.0 C1247.4,1887.9 1271.4,1886.4 1295.5,1884.6 C1319.6,1882.8 1347.2,1881.9 1367.7,1879.2 C1388.2,1876.5 1409.9,1870.1 1418.3,1868.3" fill="none" stroke="#6e6e6e" stroke-width="4" stroke-linejoin="miter"/>
<path d="M293.3,1941.5 C293.9,1939.1 295.6,1931.8 297.0,1927.0 C298.4,1922.2 299.0,1917.0 301.5,1913.0 C304.0,1909.0 307.1,1905.8 312.0,1903.0 C316.9,1900.2 322.7,1898.9 331.0,1896.5 C339.3,1894.1 350.5,1890.2 362.0,1888.5 C373.5,1886.8 385.3,1885.9 400.0,1886.0 C414.7,1886.1 431.7,1888.2 450.0,1889.0 C468.3,1889.8 490.0,1890.0 510.0,1890.7 C530.0,1891.4 550.0,1892.7 570.0,1893.0 C590.0,1893.3 610.0,1893.1 630.0,1892.5 C650.0,1891.9 670.0,1890.5 690.0,1889.3 C710.0,1888.0 730.0,1886.7 750.0,1885.0 C770.0,1883.3 793.3,1880.8 810.0,1879.3 C826.7,1877.8 823.8,1876.8 850.0,1876.3 C876.2,1875.8 937.3,1876.9 967.0,1876.3 C996.7,1875.7 1005.8,1874.1 1028.0,1872.7 C1050.2,1871.3 1080.7,1869.2 1100.0,1868.0 C1119.3,1866.8 1126.8,1866.5 1144.0,1865.8 C1161.2,1865.1 1183.2,1864.2 1203.0,1863.6 C1222.8,1863.0 1243.0,1862.7 1263.0,1862.2 C1283.0,1861.7 1303.2,1860.9 1323.0,1860.4 C1342.8,1859.9 1366.5,1859.5 1382.0,1859.3 C1397.5,1859.1 1409.5,1858.5 1416.0,1859.0 C1422.5,1859.5 1420.2,1861.5 1421.0,1862.0" fill="none" stroke="#7a7a7a" stroke-width="4.5" stroke-dasharray="29 30"/>
<path d="M293.3,1941.5 C294.1,1942.5 295.2,1946.0 298.0,1947.5 C300.8,1949.0 302.8,1949.7 310.0,1950.5 C317.2,1951.3 330.5,1953.4 341.0,1952.5 C351.5,1951.6 363.0,1946.8 373.0,1945.0 C383.0,1943.2 393.2,1942.5 401.0,1941.7 C408.8,1940.9 403.5,1940.6 420.0,1940.0 C436.5,1939.4 470.0,1938.5 500.0,1938.0 C530.0,1937.5 569.8,1937.2 600.0,1937.0 C630.2,1936.8 658.0,1936.7 681.0,1936.7 C704.0,1936.8 713.8,1937.2 738.0,1937.3 C762.2,1937.4 800.8,1937.5 826.0,1937.3 C851.2,1937.1 868.5,1936.5 889.0,1936.0 C909.5,1935.5 929.3,1935.2 949.0,1934.0 C968.7,1932.8 987.5,1930.8 1007.0,1928.7 C1026.5,1926.6 1046.2,1923.9 1066.0,1921.4 C1085.8,1918.9 1106.5,1916.2 1126.0,1913.5 C1145.5,1910.8 1163.2,1907.4 1183.0,1905.5 C1202.8,1903.6 1225.0,1902.9 1245.0,1902.0 C1265.0,1901.1 1283.2,1900.9 1303.0,1900.0 C1322.8,1899.1 1348.7,1898.7 1364.0,1896.5 C1379.3,1894.3 1385.5,1890.2 1395.0,1887.0 C1404.5,1883.8 1416.7,1878.7 1421.0,1877.0" fill="none" stroke="#7a7a7a" stroke-width="4.5" stroke-dasharray="32 30" stroke-dashoffset="40"/>
</svg></body></html>
